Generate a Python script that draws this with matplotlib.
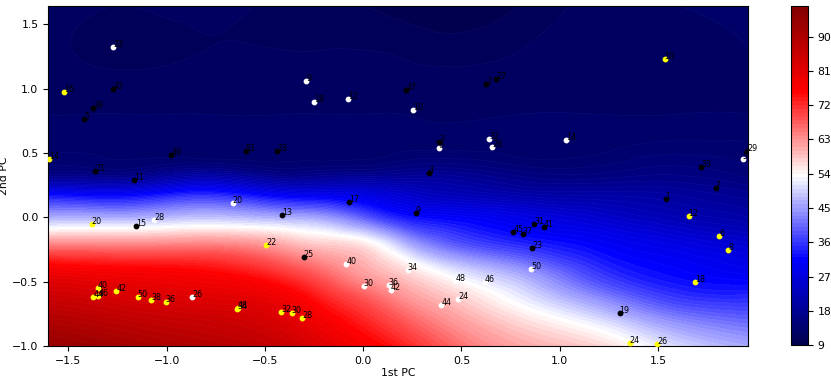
import numpy as np
import matplotlib.pyplot as plt
import matplotlib.tri as mtri

# background surface, values on a coarse grid (PC space)
grid_x = [-1.61, -1.2, -0.8, -0.4, -0.2, 0.0, 0.2, 0.4, 0.8, 1.2, 1.6, 1.96]
grid_y = [-1.0, -0.8, -0.6, -0.4, -0.2, 0.0, 0.2, 0.3, 0.4, 0.6, 0.8, 1.0, 1.3, 1.65]
surface = [
    [93.5, 91.2, 89.0, 85.0, 81.0, 77.0, 73.0, 68.0, 61.0, 57.0, 50.0, 46.0],
    [89.5, 87.0, 85.0, 81.5, 77.2, 72.8, 68.0, 63.5, 56.5, 50.5, 43.0, 40.0],
    [84.0, 82.0, 80.5, 77.2, 72.2, 67.3, 62.5, 58.5, 51.0, 42.0, 35.0, 34.0],
    [77.1, 75.8, 74.6, 69.6, 65.5, 61.0, 56.6, 51.5, 44.0, 35.0, 31.0, 29.0],
    [63.0, 63.0, 63.6, 60.0, 57.3, 55.0, 47.0, 40.0, 34.0, 30.5, 27.5, 25.0],
    [46.0, 46.0, 48.0, 46.0, 44.5, 39.0, 33.0, 31.0, 28.0, 25.0, 22.0, 20.0],
    [29.0, 28.0, 32.0, 27.0, 26.5, 26.0, 24.0, 22.0, 19.5, 19.0, 18.5, 17.0],
    [18.0, 18.0, 22.0, 18.0, 18.5, 19.0, 19.0, 19.0, 16.5, 16.0, 16.5, 15.0],
    [14.0, 13.5, 15.0, 13.5, 13.8, 14.0, 15.0, 15.5, 14.0, 14.0, 15.0, 14.0],
    [12.5, 12.5, 12.5, 12.5, 12.5, 12.5, 12.5, 12.5, 12.5, 12.5, 13.0, 13.0],
    [12.0, 12.0, 12.0, 12.0, 12.0, 12.0, 12.0, 11.8, 12.0, 12.0, 12.0, 12.0],
    [11.8, 11.5, 11.5, 11.5, 11.5, 11.5, 11.5, 11.5, 11.5, 11.5, 11.5, 12.0],
    [11.5, 10.5, 11.0, 11.0, 11.0, 11.0, 10.8, 10.5, 11.0, 11.5, 11.5, 12.0],
    [12.0, 11.0, 11.5, 10.5, 10.3, 10.0, 9.6, 9.3, 10.0, 11.5, 12.0, 12.5],
]

# samples, split by marker colour
black_pc1 = [-1.271, -1.373, -1.421, -1.365, -1.167, -0.976, -0.597, -0.438, 0.219, 0.625,
             0.676, 0.387, 0.334, 1.954, 1.721, 1.794, 0.268, 1.539, 0.871, 0.920,
             0.764, 0.811, 0.860, 1.305, -1.156, -0.411, -0.071, -0.302]
black_pc2 = [0.999, 0.847, 0.761, 0.360, 0.290, 0.484, 0.515, 0.518, 0.991, 1.033,
             1.075, 0.585, 0.342, 0.518, 0.393, 0.230, 0.033, 0.145, -0.050, -0.078,
             -0.117, -0.132, -0.239, -0.744, -0.068, 0.016, 0.121, -0.311]
black_lab = ['43', '39', '5', '21', '11', '49', '51', '33', '47', '2',
             '27', '3', '4', '29', '33', '7', '9', '1', '31', '41',
             '45', '37', '23', '19', '15', '13', '17', '25']

white_pc1 = [-1.271, -0.289, -0.248, -0.076, 0.255, 0.384, 0.642, 0.658, 1.032, 1.931,
             0.854, 0.226, 0.129, 0.141, 0.472, 0.618, 0.482, 0.397, -1.063, -0.665,
             -0.085, 0.002, -0.869]
white_pc2 = [1.321, 1.061, 0.893, 0.922, 0.834, 0.536, 0.611, 0.549, 0.598, 0.455,
             -0.402, -0.409, -0.526, -0.565, -0.492, -0.505, -0.632, -0.684, -0.019, 0.111,
             -0.365, -0.534, -0.622]
white_lab = ['22', '9', '18', '12', '10', '6', '32', '28', '14', '5',
             '50', '34', '36', '42', '48', '46', '24', '44', '28', '20',
             '40', '30', '26']

yellow_pc1 = [-1.524, -1.600, 1.534, 1.656, 1.811, 1.857, 1.690, 1.356, 1.497, -1.382,
              -0.492, -1.351, -1.373, -1.348, -1.256, -1.147, -1.079, -1.005, -0.641, -0.637,
              -0.418, -0.363, -0.309]
yellow_pc2 = [0.971, 0.455, 1.232, 0.012, -0.145, -0.254, -0.500, -0.977, -0.987, -0.050,
              -0.215, -0.552, -0.617, -0.611, -0.575, -0.619, -0.645, -0.658, -0.712, -0.706,
              -0.738, -0.744, -0.780]
yellow_lab = ['16', '14', '10', '12', '6', '8', '18', '24', '26', '20',
              '22', '40', '44', '46', '42', '50', '38', '36', '34', '48',
              '32', '30', '28']

x_lim = (-1.603, 1.958)
y_lim = (-1.0, 1.642)

# smooth the coarse grid with matplotlib's cubic triangulation interpolator
gx, gy = np.meshgrid(grid_x, grid_y)
tri = mtri.Triangulation(gx.ravel(), gy.ravel())
interp = mtri.CubicTriInterpolator(tri, np.array(surface).ravel(), kind='min_E')
fx, fy = np.meshgrid(np.linspace(*x_lim, 400), np.linspace(*y_lim, 300))
fz = np.clip(np.asarray(interp(fx, fy)), 9.05, 97.9)

levels = np.arange(9, 99)

fig = plt.figure(figsize=(8.31, 3.78), dpi=100)
ax = fig.add_axes([0.058, 0.085, 0.842, 0.899])
cax = fig.add_axes([0.952, 0.087, 0.020, 0.897])

cf = ax.contourf(fx, fy, fz, levels=levels, cmap='seismic')
ax.contour(fx, fy, fz, levels=levels, colors='white', linewidths=0.4,
           linestyles='--', alpha=0.07)

for pc1, pc2, lab, col in [(black_pc1, black_pc2, black_lab, 'black'),
                           (white_pc1, white_pc2, white_lab, 'white'),
                           (yellow_pc1, yellow_pc2, yellow_lab, 'yellow')]:
    ax.scatter(pc1, pc2, s=10, c=col, zorder=3)
    for x, y, t in zip(pc1, pc2, lab):
        ax.annotate(t, (x, y), fontsize=5.8, color='black', zorder=4)

ax.set_xlim(*x_lim)
ax.set_ylim(*y_lim)
ax.set_xlabel('1st PC', fontsize=7.8, labelpad=2)
ax.set_ylabel('2nd PC', fontsize=7.8, labelpad=2)
ax.tick_params(labelsize=7.8)

cb = fig.colorbar(cf, cax=cax)
cb.ax.tick_params(labelsize=7.8)

plt.savefig('out.png', dpi=100)
